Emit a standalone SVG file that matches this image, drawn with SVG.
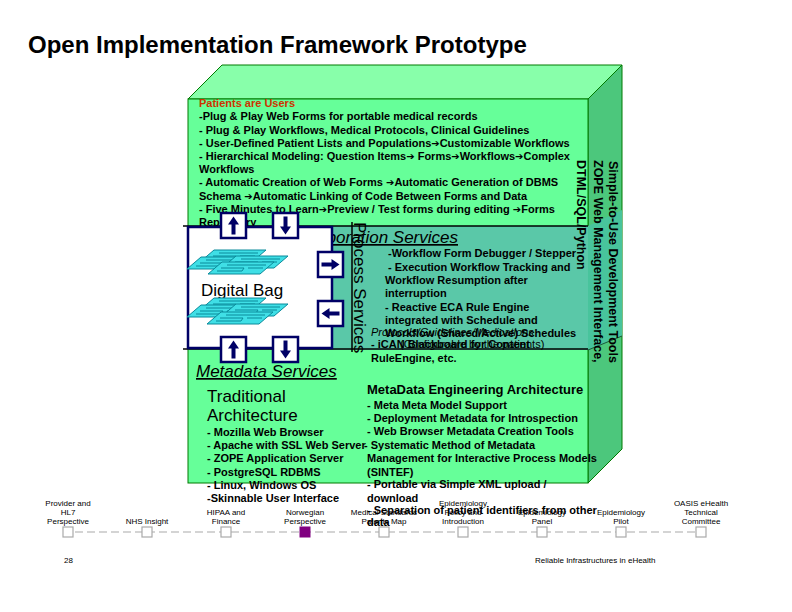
<svg xmlns="http://www.w3.org/2000/svg" width="792" height="612" viewBox="0 0 792 612">
<style>
text{font-family:"Liberation Sans",Arial,Helvetica,sans-serif;fill:#000}
.b11{font-size:11px;font-weight:bold}
.b12{font-size:12.5px;font-weight:bold}
.big{font-size:17px}
.it{font-size:17px;font-style:italic;text-decoration:underline}
.lbl{font-size:8px;text-anchor:middle}
.foot{font-size:8px}
.ar{font-family:"DejaVu Sans",sans-serif;font-weight:normal;font-size:10px}
.abox{fill:#fff;stroke:#000066;stroke-width:2.5}
.arr{fill:#000066}
.sheet{fill:#3fdfe6;stroke:#0a8a9a;stroke-width:1}
.slot{fill:none;stroke:#0a8a9a;stroke-width:1}
.sq{fill:#fff;stroke:#aaaaaa;stroke-width:1.2}
.edge{stroke:#007a00;stroke-width:1}
</style>
<defs>
<path id="arrow" d="M0,-9 L5.5,-1 L2,-1 L2,9 L-2,9 L-2,-1 L-5.5,-1 Z"/>
<g id="sheet">
<polygon class="sheet" points="14,0 66,0 52,12 0,12"/>
<polyline class="slot" points="19,3 58,3"/>
<polyline class="slot" points="13,6 36,6 34,9 9,9"/>
<polyline class="slot" points="40,6 55,6"/>
</g>
</defs>
<rect width="792" height="612" fill="#fff"/>

<text x="28" y="53" style="font-size:24px;font-weight:bold">Open Implementation Framework Prototype</text>

<g id="cube">
<polygon class="edge" points="188,99 222,65 622,65 588,99" fill="#88ffaa"/>
<polygon class="edge" points="588,99 622,65 622,449 588,483" fill="#4cc77c"/>
<rect class="edge" x="188" y="99" width="400" height="384" fill="#66ff99"/>
</g>

<g id="top-text">
<text x="199" y="107" class="b11" style="fill:#cc3300">Patients are Users</text>
<text x="199" y="120" class="b11">-Plug &amp; Play Web Forms for portable medical records</text>
<text x="199" y="134" class="b11">- Plug &amp; Play Workflows, Medical Protocols, Clinical Guidelines</text>
<text x="199" y="147" class="b11">- User-Defined Patient Lists and Populations<tspan class="ar">➔</tspan>Customizable Workflows</text>
<text x="199" y="160" class="b11">- Hierarchical Modeling: Question Items<tspan class="ar">➔</tspan> Forms<tspan class="ar">➔</tspan>Workflows<tspan class="ar">➔</tspan>Complex</text>
<text x="199" y="173" class="b11">Workflows</text>
<text x="199" y="186" class="b11">- Automatic Creation of Web Forms <tspan class="ar">➔</tspan>Automatic Generation of DBMS</text>
<text x="199" y="200" class="b11">Schema <tspan class="ar">➔</tspan>Automatic Linking of Code Between Forms and Data</text>
<text x="199" y="213" class="b11">- Five Minutes to Learn<tspan class="ar">➔</tspan>Preview / Test forms during editing <tspan class="ar">➔</tspan>Forms</text>
<text x="199" y="226" class="b11">Repository</text>
</g>

<g id="process-services">
<rect x="188" y="226" width="400" height="124" fill="#5ac8a8"/>
<polygon points="588,226 622,210 622,336 588,350" fill="#48c49c"/>
<line x1="588" y1="350" x2="622" y2="336" stroke="#1a5a3a" stroke-width="1"/>
<line x1="183" y1="226" x2="588" y2="226" stroke="#000" stroke-width="1.5"/>
<line x1="183" y1="349" x2="588" y2="349" stroke="#000" stroke-width="1.5"/>
<text x="458" y="243" class="it" text-anchor="end">Collaboration Services</text>
<text x="388" y="257" class="b11">-Workflow Form Debugger / Stepper</text>
<text x="388" y="271" class="b11">- Execution Workflow Tracking and</text>
<text x="385" y="284" class="b11">Workflow Resumption after</text>
<text x="385" y="297" class="b11">interruption</text>
<text x="385" y="311" class="b11">- Reactive ECA Rule Engine</text>
<text x="385" y="324" class="b11">integrated with Schedule and</text>
<text x="371" y="336" style="font-size:11px;font-style:italic">Protocols/Guidelines/Medications</text>
<text x="385" y="337" class="b11">Workflow (Shared/Active) Schedules</text>
<text x="371" y="348" class="b11">- iCAN Blackboard for Content</text>
<text x="400" y="348" style="font-size:11px">(Configurable by the patients)</text>
<text x="371" y="362" class="b11">RuleEngine, etc.</text>
<line x1="352" y1="222" x2="352" y2="352" stroke="#000" stroke-width="1.5"/>
<text transform="translate(354,222) rotate(90)" style="font-size:17px">Process Services</text>
</g>

<g id="digital-bag">
<rect x="188" y="227" width="144" height="121" fill="#fff" stroke="#000066" stroke-width="2.5"/>
<use href="#sheet" x="200" y="250"/>
<use href="#sheet" x="187" y="257"/>
<use href="#sheet" x="222" y="256"/>
<use href="#sheet" x="208" y="262"/>
<text x="201" y="296" class="big">Digital Bag</text>
<use href="#sheet" x="200" y="298"/>
<use href="#sheet" x="187" y="305"/>
<use href="#sheet" x="222" y="304"/>
<use href="#sheet" x="207" y="312"/>
</g>

<g id="arrow-boxes">
<rect class="abox" x="221" y="213" width="25" height="25"/>
<use href="#arrow" class="arr" transform="translate(233.5,225.5)"/>
<rect class="abox" x="273" y="213" width="25" height="25"/>
<use href="#arrow" class="arr" transform="translate(285.5,225.5) rotate(180)"/>
<rect class="abox" x="318" y="252" width="25" height="25"/>
<use href="#arrow" class="arr" transform="translate(330.5,264.5) rotate(90)"/>
<rect class="abox" x="318" y="301" width="25" height="25"/>
<use href="#arrow" class="arr" transform="translate(330.5,313.5) rotate(-90)"/>
<rect class="abox" x="221" y="337" width="25" height="25"/>
<use href="#arrow" class="arr" transform="translate(233.5,349.5)"/>
<rect class="abox" x="273" y="337" width="25" height="25"/>
<use href="#arrow" class="arr" transform="translate(285.5,349.5) rotate(180)"/>
</g>

<g id="dev-tools">
<text transform="translate(609,161) rotate(90)" class="b12">Simple-to-Use Development Tools</text>
<text transform="translate(594,160) rotate(90)" class="b12">ZOPE Web Management Interface,</text>
<text transform="translate(577,160) rotate(90)" class="b12">DTML/SQL/Python</text>
</g>

<g id="metadata">
<text x="196" y="377" class="it">Metadata Services</text>
<text x="207" y="402" class="big">Traditional</text>
<text x="207" y="421" class="big">Architecture</text>
<text x="207" y="436" class="b11">- Mozilla Web Browser</text>
<text x="207" y="449" class="b11">- Apache with SSL Web Server</text>
<text x="207" y="462" class="b11">- ZOPE Application Server</text>
<text x="207" y="476" class="b11">- PostgreSQL RDBMS</text>
<text x="207" y="489" class="b11">- Linux, Windows OS</text>
<text x="207" y="502" class="b11">-Skinnable User Interface</text>
<text x="367" y="394" style="font-size:13px;font-weight:bold">MetaData Engineering Architecture</text>
<text x="367" y="409" class="b11">- Meta Meta Model Support</text>
<text x="367" y="422" class="b11">- Deployment Metadata for Introspection</text>
<text x="367" y="435" class="b11">- Web Browser Metadata Creation Tools</text>
<text x="364" y="449" class="b11">- Systematic Method of Metadata</text>
<text x="367" y="462" class="b11">Management for Interactive Process Models</text>
<text x="367" y="476" class="b11">(SINTEF)</text>
<text x="367" y="488" class="b11">- Portable via Simple XML upload /</text>
<text x="367" y="502" class="b11">download</text>
</g>

<g id="timeline">
<line x1="63" y1="532" x2="706" y2="532" stroke="#aaaaaa" stroke-width="1.2" stroke-dasharray="8,4"/>
<g id="m1"><rect class="sq" x="63" y="527" width="10" height="10"/><text class="lbl" x="68" y="506">Provider and</text><text class="lbl" x="68" y="515">HL7</text><text class="lbl" x="68" y="524">Perspective</text></g>
<g id="m2"><rect class="sq" x="142" y="527" width="10" height="10"/><text class="lbl" x="147" y="524">NHS Insight</text></g>
<g id="m3"><rect class="sq" x="221" y="527" width="10" height="10"/><text class="lbl" x="226" y="515">HIPAA and</text><text class="lbl" x="226" y="524">Finance</text></g>
<g id="m4"><rect x="300" y="527" width="10" height="10" fill="#800080" stroke="#800080"/><text class="lbl" x="305" y="515">Norwegian</text><text class="lbl" x="305" y="524">Perspective</text></g>
<g id="m5"><rect class="sq" x="379" y="527" width="10" height="10"/><text class="lbl" x="384" y="515">Medical Standards</text><text class="lbl" x="384" y="524">Patents Map</text></g>
<g id="m6"><rect class="sq" x="458" y="527" width="10" height="10"/><text class="lbl" x="463" y="506">Epidemiology</text><text class="lbl" x="463" y="515">Policy and</text><text class="lbl" x="463" y="524">Introduction</text></g>
<g id="m7"><rect class="sq" x="537" y="527" width="10" height="10"/><text class="lbl" x="542" y="515">Epidemiology</text><text class="lbl" x="542" y="524">Panel</text></g>
<g id="m8"><rect class="sq" x="616" y="527" width="10" height="10"/><text class="lbl" x="621" y="515">Epidemiology</text><text class="lbl" x="621" y="524">Pilot</text></g>
<g id="m9"><rect class="sq" x="696" y="527" width="10" height="10"/><text class="lbl" x="701" y="506">OASIS eHealth</text><text class="lbl" x="701" y="515">Technical</text><text class="lbl" x="701" y="524">Committee</text></g>
</g>

<text x="367" y="514" style="font-size:11px;font-weight:bold">- Separation of patient identifiers from other</text>
<text x="367" y="526" style="font-size:11px;font-weight:bold">data</text>

<text x="64" y="563" class="foot">28</text>
<text x="535" y="563" class="foot">Reliable Infrastructures in eHealth</text>
</svg>
